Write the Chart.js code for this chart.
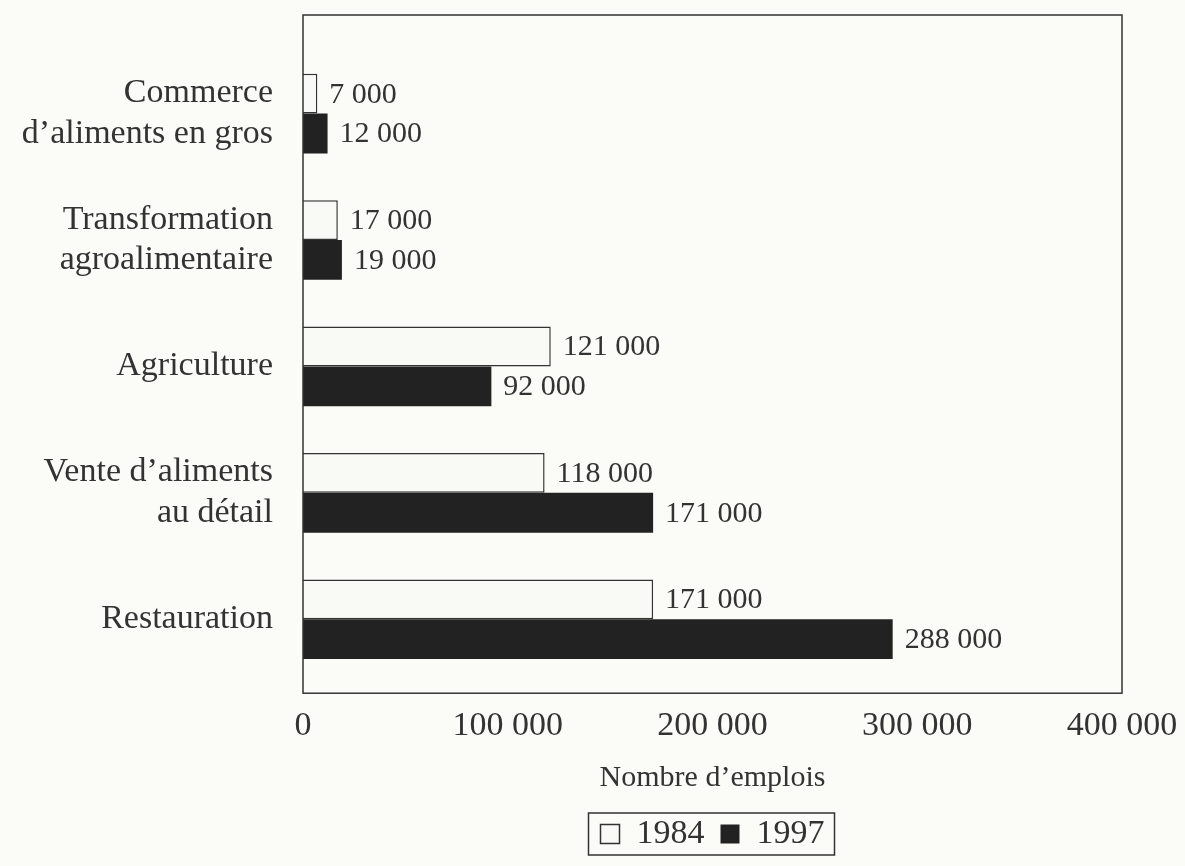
<!DOCTYPE html>
<html>
<head>
<meta charset="utf-8">
<script src="https://cdn.jsdelivr.net/npm/chart.js@4"></script>
<style>
  body { margin: 0; background: #fbfbf7; }
  #wrap { width: 1185px; height: 866px; }
</style>
</head>
<body>
<div id="wrap"><canvas id="barChart"></canvas></div>
<script>
const categories = [
  ['Commerce', 'd’aliments en gros'],
  ['Transformation', 'agroalimentaire'],
  'Agriculture',
  ['Vente d’aliments', 'au détail'],
  'Restauration'
];
const years = ['1984', '1997'];
const values1984 = [7000, 17000, 121000, 118000, 171000];
const values1997 = [12000, 19000, 92000, 171000, 288000];
const xTicks = [0, 100000, 200000, 300000, 400000];

const ink = '#333';
const serif = '"Liberation Serif", "DejaVu Serif", serif';

function fmt(v) {
  return String(v).replace(/\B(?=(\d{3})+(?!\d))/g, ' ');
}

// Frame around the plot area, and a box round the legend
const frame = {
  id: 'frame',
  afterDraw(chart) {
    const { ctx, chartArea: a } = chart;
    ctx.save();
    ctx.strokeStyle = ink;
    ctx.lineWidth = 1.5;
    ctx.strokeRect(a.left, a.top, a.right - a.left, a.bottom - a.top);
    const boxes = chart.legend.legendHitBoxes;
    if (boxes && boxes.length) {
      const l = Math.min(...boxes.map(b => b.left)) - 12;
      const r = Math.max(...boxes.map(b => b.left + b.width)) + 10;
      const t = Math.min(...boxes.map(b => b.top)) - 4;
      const btm = Math.max(...boxes.map(b => b.top + b.height)) + 4;
      ctx.strokeRect(l, t, r - l, btm - t);
    }
    ctx.restore();
  }
};

// Value labels at the bar ends
const valueLabels = {
  id: 'valueLabels',
  afterDatasetsDraw(chart) {
    const ctx = chart.ctx;
    ctx.save();
    ctx.font = '30px ' + serif;
    ctx.fillStyle = ink;
    ctx.textBaseline = 'middle';
    chart.data.datasets.forEach((ds, i) => {
      chart.getDatasetMeta(i).data.forEach((el, j) => {
        ctx.fillText(fmt(ds.data[j].x), el.x + 12, el.y + 1);
      });
    });
    ctx.restore();
  }
};

new Chart(document.getElementById('barChart'), {
  type: 'bar',
  data: {
    datasets: [
      {
        label: years[0],
        data: values1984.map((v, i) => ({ x: v, y: i })),
        backgroundColor: '#f9f9f6',
        borderColor: ink,
        borderWidth: 1.5
      },
      {
        label: years[1],
        data: values1997.map((v, i) => ({ x: v, y: i })),
        backgroundColor: '#222',
        borderColor: '#222',
        borderWidth: 0
      }
    ]
  },
  options: {
    indexAxis: 'y',
    responsive: true,
    maintainAspectRatio: false,
    animation: false,
    categoryPercentage: 0.63,
    barPercentage: 1,
    layout: { padding: { top: 15, right: 63, bottom: 5, left: 0 } },
    scales: {
      x: {
        type: 'linear',
        min: 0,
        max: 400000,
        afterBuildTicks: s => { s.ticks = xTicks.map(v => ({ value: v })); },
        afterFit: s => { s.paddingLeft = 0; s.paddingRight = 0; },
        grid: { display: false },
        border: { display: false },
        ticks: {
          color: ink,
          font: { family: serif, size: 34 },
          padding: 4,
          callback: v => fmt(v)
        },
        title: {
          display: true,
          text: 'Nombre d’emplois',
          color: ink,
          font: { family: serif, size: 30 },
          padding: { top: 10, bottom: 5 }
        }
      },
      y: {
        type: 'linear',
        offset: false,
        reverse: true,
        min: -0.78,
        max: 4.585,
        afterBuildTicks: s => { s.ticks = categories.map((c, i) => ({ value: i })); },
        afterFit: s => { s.width = 303; s.paddingTop = 0; s.paddingBottom = 0; },
        grid: { display: false },
        border: { display: false },
        ticks: {
          color: ink,
          font: { family: serif, size: 34 },
          padding: 22,
          callback: v => categories[v]
        }
      }
    },
    plugins: {
      legend: {
        position: 'bottom',
        fullSize: false,
        labels: {
          color: ink,
          font: { family: serif, size: 34 },
          boxWidth: 19,
          boxHeight: 19,
          padding: 16
        }
      },
      tooltip: { enabled: false }
    }
  },
  plugins: [frame, valueLabels]
});
</script>
</body>
</html>
